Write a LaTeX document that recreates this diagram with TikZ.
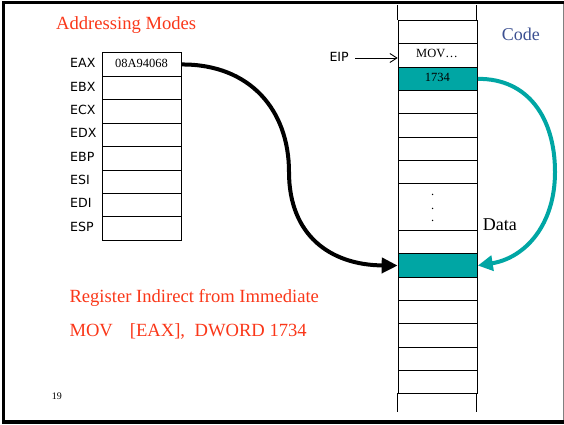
\documentclass[tikz,border=0pt]{standalone}
\usepackage{fontspec}
\setmainfont{Liberation Serif}
\newfontfamily\regfont{DejaVu Sans}
\usetikzlibrary{arrows.meta,calc}
\definecolor{tealc}{RGB}{0,166,164}
\definecolor{redc}{RGB}{250,55,25}
\definecolor{codec}{RGB}{60,80,145}
\begin{document}
\begin{tikzpicture}[x=1pt,y=-1pt,
  regcell/.style={draw, line width=0.9pt, minimum width=79.6pt, minimum height=23.45pt, inner sep=0pt, anchor=north west},
  memcell/.style={draw, line width=1.1pt, minimum width=79pt, minimum height=23.333pt, inner sep=0pt, anchor=north west},
  reglbl/.style={font=\regfont\fontsize{12.6}{14}\selectfont, anchor=base west, inner sep=0pt},
  celltxt/.style={font=\fontsize{12.5}{14}\selectfont, anchor=base, inner sep=0pt},
  redtxt/.style={font=\fontsize{18.6}{21}\selectfont, text=redc, anchor=base west, inner sep=0pt},
  bigtxt/.style={font=\fontsize{18}{21}\selectfont, anchor=base west, inner sep=0pt}
]
\useasboundingbox (0,0) rectangle (564,424);
% slide frame
\fill[black] (2,1) rectangle (564,4);
\fill[black] (1.5,1) rectangle (5,424);
\fill[black] (2,419.5) rectangle (564,424);
\draw[gray, line width=1pt] (563,4) -- (563,420);

% title
\node[redtxt] (title) at (56,29.3) {Addressing Modes};

% registers
\foreach \i in {0,...,7} {
  \node[regcell] (r\i) at (101.7,{52.3+23.45*\i}) {};
}
\foreach \lab [count=\k from 0] in {EAX,EBX,ECX,EDX,EBP,ESI,EDI,ESP} {
  \node[reglbl] (l\k) at (70,{67.7+23.33*\k}) {\lab};
}
\node[celltxt] (v0) at (141.5,67.7) {08A94068};

% memory column
\draw[line width=1.1pt] (397.7,5) -- (397.7,20);
\draw[line width=1.1pt] (476.7,5) -- (476.7,20);
\draw[line width=1.1pt] (397.7,393.3) -- (397.7,412);
\draw[line width=1.1pt] (476.7,393.3) -- (476.7,412);
\foreach \i in {0,...,6} {
  \node[memcell] (m\i) at (397.7,{20+23.333*\i}) {};
}
\node[memcell, minimum height=46.667pt] (mdots) at (397.7,183.333) {};
\foreach \i in {9,...,15} {
  \node[memcell] (m\i) at (397.7,{20+23.333*\i}) {};
}
\node[memcell, fill=tealc] (m2) at (397.7,66.667) {};
\node[memcell, fill=tealc] (m10) at (397.7,253.333) {};
\node[celltxt] (t1) at (437,57.3) {MOV…};
\node[celltxt] (t2) at (437.3,81.7) {1734};
\foreach \yy [count=\k] in {195.5,209,221.5} {
  \node[celltxt] (d\k) at (432.7,\yy) {.};
}

\node[bigtxt, text=codec] (code) at (501.7,40) {Code};
\node[bigtxt] (data) at (482.7,230.7) {Data};

% EIP
\node[reglbl] (eip) at (329.3,61) {EIP};
\coordinate (eiptip) at (397.7,58);
\draw[line width=0.9pt, -{Straight Barb[length=7pt,width=9pt]}] ([xshift=6.5pt]eip.east |- eiptip) -- (eiptip);

% connectors
\draw[line width=4pt, -{Triangle[length=16pt,width=15pt]}]
  (r0.east) .. controls (250,64.3) and (289,110) .. (289,172)
  .. controls (289,235) and (330,265) .. (m10.west);
\draw[tealc, line width=4pt, -{Triangle[length=15pt,width=15pt]}]
  (m2.east) .. controls (528,78.3) and (555,118) .. (555,172)
  .. controls (555,225) and (525,258) .. (m10.east);

% bottom texts
\node[redtxt] (desc) at (69.3,302) {Register Indirect from Immediate};
\node[redtxt] (instr) at (69.3,336.7) {MOV\hspace{17pt}[EAX],\hspace{9.5pt}DWORD 1734};
\node[font=\fontsize{10}{12}\selectfont, anchor=base west, inner sep=0pt] (pg) at (51.7,399) {19};
\end{tikzpicture}
\end{document}
